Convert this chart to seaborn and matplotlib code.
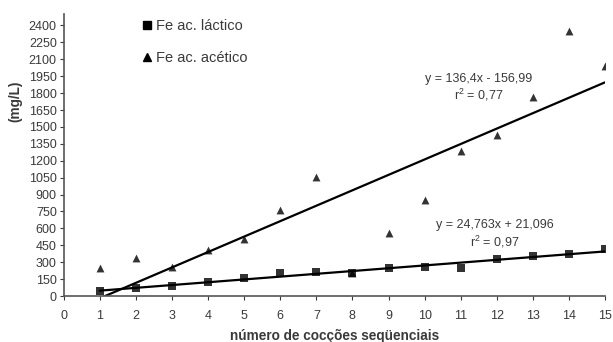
import numpy as np
import pandas as pd
import matplotlib
matplotlib.use("Agg")
import matplotlib.pyplot as plt
import seaborn as sns

# values (acetic point at cycle 8 sits hidden behind the square)
ciclos_lactico = [1, 2, 3, 4, 5, 6, 7, 8, 9, 10, 11, 12, 13, 14, 15]
fe_lactico = [40, 74, 92, 121, 163, 201, 213, 201, 246, 255, 246, 326, 355, 373, 417]
ciclos_acetico = [1, 2, 3, 4, 5, 6, 7, 8, 9, 10, 11, 12, 13, 14, 15]
fe_acetico = [248, 335, 260, 408, 506, 763, 1059, 200, 556, 852, 1287, 1429, 1764, 2355, 2044]
eq_acetico = ["y = 136,4x - 156,99", "r$^2$ = 0,77"]
eq_lactico = ["y = 24,763x + 21,096", "r$^2$ = 0,97"]
y_ticks = list(range(0, 2401, 150))
x_ticks = list(range(0, 16))

df_lac = pd.DataFrame({"x": ciclos_lactico, "y": fe_lactico})
df_ace = pd.DataFrame({"x": ciclos_acetico, "y": fe_acetico})

sns.set_style("ticks")
plt.rcParams['font.family'] = ['Liberation Sans', 'DejaVu Sans']
plt.rcParams['mathtext.fontset'] = 'custom'
plt.rcParams['mathtext.rm'] = 'Liberation Sans'
txt = "#3a3a3a"

fig = plt.figure(figsize=(6.13, 3.42), dpi=100)
ax = fig.add_axes([0.104, 0.1345, 0.883, 0.824])

sns.regplot(data=df_ace, x="x", y="y", ax=ax, ci=None, truncate=True,
            marker="^", color="black",
            scatter_kws={"s": 32, "zorder": 3, "linewidths": 0},
            line_kws={"lw": 1.6, "color": "black"})
sns.regplot(data=df_lac, x="x", y="y", ax=ax, ci=None, truncate=True,
            marker="s", color="black",
            scatter_kws={"s": 40, "zorder": 4, "linewidths": 0},
            line_kws={"lw": 1.6, "color": "black"})

ax.set_xlim(0, 15)
ax.set_ylim(0, 2500)
ax.set_xticks(x_ticks)
ax.set_yticks(y_ticks)
ax.tick_params(labelsize=9, colors=txt, length=3, width=0.8, labelcolor=txt)
ax.tick_params(axis="x", pad=7)
ax.tick_params(axis="y", pad=2)
sns.despine(ax=ax)
for s in ["left", "bottom"]:
    ax.spines[s].set_color("#555555")
    ax.spines[s].set_linewidth(1.2)

ax.set_xlabel("número de cocções seqüenciais", fontsize=9.8, fontweight="bold", color=txt)
ax.xaxis.set_label_coords(0.5, -0.117)
ax.set_ylabel("(mg/L)", fontsize=9.8, fontweight="bold", color=txt)
ax.yaxis.set_label_coords(-0.076, 0.69)

ax.text(11.5, 1926, eq_acetico[0], ha="center", va="center", fontsize=9, color=txt)
ax.text(11.5, 1780, eq_acetico[1], ha="center", va="center", fontsize=9, color=txt)
ax.text(11.95, 630, eq_lactico[0], ha="center", va="center", fontsize=9, color=txt)
ax.text(11.95, 479, eq_lactico[1], ha="center", va="center", fontsize=9, color=txt)

handles = [
    plt.Line2D([], [], marker="s", color="black", ls="none", markersize=5.5),
    plt.Line2D([], [], marker="^", color="black", ls="none", markersize=5.5),
]
leg = ax.legend(handles, ["Fe ac. láctico", "Fe ac. acético"], loc="upper left",
                bbox_to_anchor=(0.117, 1.03), frameon=False, fontsize=10.5,
                handletextpad=0.1, handlelength=1.0, labelspacing=1.25,
                labelcolor=txt)

fig.savefig("out.png", dpi=100)
